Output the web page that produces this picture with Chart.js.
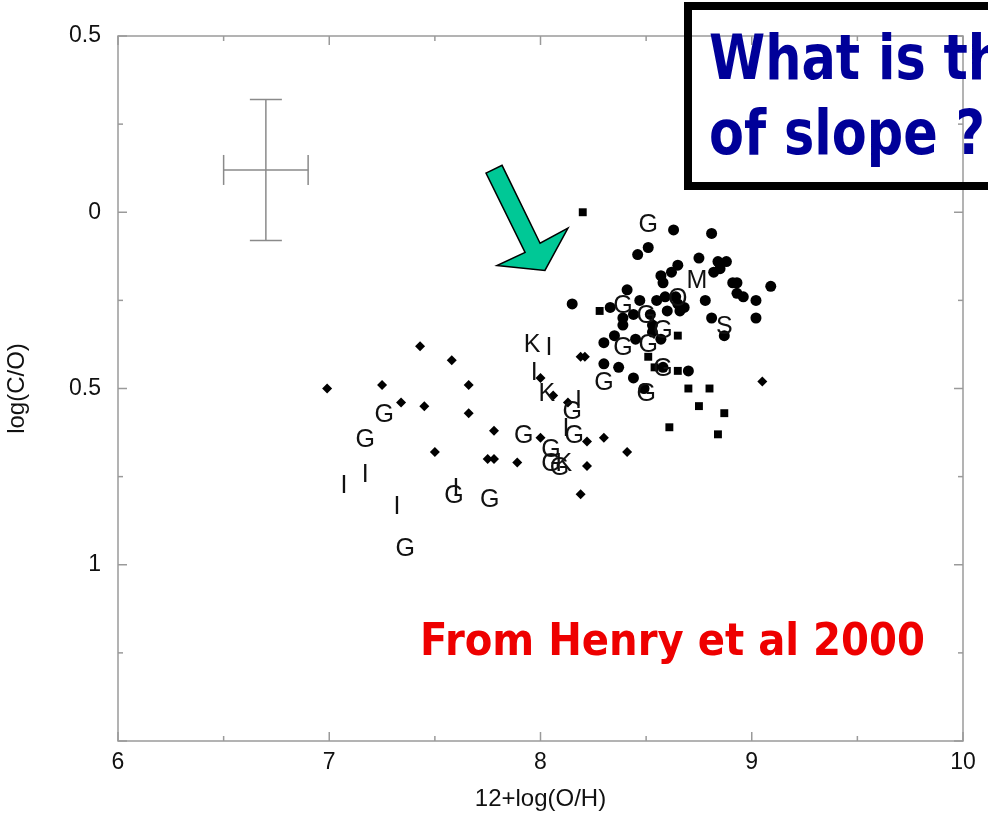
<!DOCTYPE html>
<html><head><meta charset="utf-8">
<script src="https://cdn.jsdelivr.net/npm/chart.js@4"></script>
<style>html,body{margin:0;padding:0;background:#fff;overflow:hidden}#wrap{width:988px;height:822px;position:relative}</style>
</head><body><div id="wrap"><canvas id="c" width="988" height="822"></canvas></div>
<script>
// ---- data (x = 12+log(O/H), y = log(C/O)) ----
const diamondX = [6.99,7.43,7.58,7.25,7.66,7.34,7.45,7.66,7.50,7.75,7.78,7.78,7.89,8.00,8.06,8.13,8.19,8.21,8.00,8.22,8.30,8.22,8.19,8.41,9.05];
const diamondY = [-0.50,-0.38,-0.42,-0.49,-0.49,-0.54,-0.55,-0.57,-0.68,-0.70,-0.70,-0.62,-0.71,-0.47,-0.52,-0.54,-0.41,-0.41,-0.64,-0.65,-0.64,-0.72,-0.80,-0.68,-0.48];

const circleX = [8.63,8.81,8.51,8.46,8.75,8.84,8.88,8.65,8.62,8.57,8.58,8.82,8.85,8.91,8.93,9.09,8.93,8.96,9.02,8.78,8.81,9.02,8.87,8.41,8.15,8.47,8.33,8.55,8.59,8.65,8.68,8.66,8.60,8.44,8.39,8.39,8.53,8.57,8.45,8.35,8.30,8.53,8.30,8.37,8.44,8.70,8.49,8.58,8.52,8.64];
const circleY = [-0.05,-0.06,-0.10,-0.12,-0.13,-0.14,-0.14,-0.15,-0.17,-0.18,-0.20,-0.17,-0.16,-0.20,-0.20,-0.21,-0.23,-0.24,-0.25,-0.25,-0.30,-0.30,-0.35,-0.22,-0.26,-0.25,-0.27,-0.25,-0.24,-0.26,-0.27,-0.28,-0.28,-0.29,-0.30,-0.32,-0.32,-0.36,-0.36,-0.35,-0.37,-0.34,-0.43,-0.44,-0.47,-0.45,-0.50,-0.44,-0.29,-0.24];

const squareX = [8.20,8.28,8.65,8.51,8.54,8.65,8.70,8.80,8.75,8.87,8.61,8.84];
const squareY = [0.00,-0.28,-0.35,-0.41,-0.44,-0.45,-0.50,-0.50,-0.55,-0.57,-0.61,-0.63];

const letterText = ['G','G','I','I','I','G','G','I','G','K','I','I','K','G','I','I','G','G','G','G','G','K','G','M','O','G','G','G','G','G','G','G','G','S'];
const letterX = [7.26,7.17,7.07,7.17,7.32,7.36,7.59,7.60,7.76,7.96,8.04,7.97,8.03,8.15,8.18,8.12,8.16,7.92,8.05,8.05,8.09,8.11,8.51,8.74,8.65,8.39,8.50,8.58,8.39,8.51,8.58,8.30,8.50,8.87];
const letterY = [-0.57,-0.64,-0.77,-0.74,-0.83,-0.95,-0.80,-0.78,-0.81,-0.37,-0.38,-0.45,-0.51,-0.56,-0.53,-0.61,-0.63,-0.63,-0.67,-0.71,-0.72,-0.71,-0.03,-0.19,-0.24,-0.26,-0.29,-0.33,-0.38,-0.37,-0.44,-0.48,-0.51,-0.32];

// typical error bar
const errX = [6.7], errY = [0.12], errDX = [0.2], errDY = [0.2];

// tick labels
const xTickValues = [6,7,8,9,10];
const xTickLabels = ['6','7','8','9','10'];
const yTickValues = [0.5,0,-0.5,-1];
const yTickLabels = ['0.5','0','0.5','1'];

// annotation arrow outline (data units)
const arrowX = [7.742,7.818,7.998,8.130,8.021,7.794,7.927];
const arrowY = [0.111,0.133,-0.088,-0.045,-0.165,-0.151,-0.114];

const zip = (xs, ys) => xs.map((v,i)=>({x:v,y:ys[i]}));

const FONT = "'Liberation Sans', Arial, sans-serif";

const framePlugin = {
  id:'frame',
  beforeDatasetsDraw(chart){
    const {ctx, chartArea:a, scales:{x,y}} = chart;
    ctx.save();
    ctx.strokeStyle = '#9a9a9a'; ctx.lineWidth = 1.5;
    ctx.strokeRect(a.left, a.top, a.right-a.left, a.bottom-a.top);
    const line=(x1,y1,x2,y2)=>{ctx.beginPath();ctx.moveTo(x1,y1);ctx.lineTo(x2,y2);ctx.stroke();};
    for (let i=0;i<=Math.round((x.max-x.min)/0.5);i++){
      const v = x.min + i*0.5; const px = x.getPixelForValue(v);
      const L = (i%2===0)?9:5;
      line(px,a.bottom,px,a.bottom-L); line(px,a.top,px,a.top+L);
    }
    for (let i=0;i<=Math.round((y.max-y.min)/0.25);i++){
      const v = y.min + i*0.25; const py = y.getPixelForValue(v);
      const L = (i%2===0)?9:5;
      line(a.left,py,a.left+L,py); line(a.right,py,a.right-L,py);
    }
    // error bar
    ctx.strokeStyle = '#8a8a8a'; ctx.lineWidth = 1.5;
    for (let i=0;i<errX.length;i++){
      const cx = x.getPixelForValue(errX[i]), cy = y.getPixelForValue(errY[i]);
      const x1 = x.getPixelForValue(errX[i]-errDX[i]), x2 = x.getPixelForValue(errX[i]+errDX[i]);
      const y1 = y.getPixelForValue(errY[i]+errDY[i]), y2 = y.getPixelForValue(errY[i]-errDY[i]);
      const cap = 15;
      line(x1,cy,x2,cy); line(cx,y1,cx,y2);
      line(x1,cy-cap,x1,cy+cap); line(x2,cy-cap,x2,cy+cap);
      line(cx-16,y1,cx+16,y1); line(cx-16,y2,cx+16,y2);
    }
    ctx.restore();
  },
  afterDatasetsDraw(chart){
    const {ctx, scales:{x,y}} = chart;
    ctx.save();
    // letters
    const meta = chart.getDatasetMeta(3);
    ctx.fillStyle = '#111';
    ctx.font = '25px ' + FONT;
    ctx.textAlign = 'center'; ctx.textBaseline = 'alphabetic';
    meta.data.forEach((el,i)=>{ ctx.fillText(letterText[i], el.x, el.y + 0.716*25/2); });
    // arrow
    ctx.beginPath();
    arrowX.forEach((v,i)=>{ const px=x.getPixelForValue(v), py=y.getPixelForValue(arrowY[i]); if(i===0)ctx.moveTo(px,py); else ctx.lineTo(px,py); });
    ctx.closePath();
    ctx.fillStyle = '#00C896'; ctx.fill();
    ctx.strokeStyle = '#000'; ctx.lineWidth = 1.5; ctx.lineJoin='miter'; ctx.stroke();
    ctx.restore();
  },
  afterDraw(chart){
    const ctx = chart.ctx;
    ctx.save();
    // question box
    ctx.strokeStyle = '#000'; ctx.lineWidth = 8;
    ctx.strokeRect(688, 6, 400, 180);
    ctx.fillStyle = '#000099';
    ctx.font = "bold 63px 'DejaVu Sans', sans-serif";
    ctx.textBaseline = 'alphabetic'; ctx.textAlign = 'left';
    const k = 276 / ctx.measureText('of slope ?').width;
    ctx.save(); ctx.translate(709, 79); ctx.scale(k,1); ctx.fillText('What is the', 0, 0); ctx.restore();
    ctx.save(); ctx.translate(709, 154); ctx.scale(k,1); ctx.fillText('of slope ?', 0, 0); ctx.restore();
    // source note
    ctx.fillStyle = '#EE0000';
    ctx.font = "bold 45px 'DejaVu Sans', sans-serif";
    const t = 'From Henry et al 2000';
    const k2 = 505 / ctx.measureText(t).width;
    ctx.save(); ctx.translate(420, 655); ctx.scale(k2,1); ctx.fillText(t, 0, 0); ctx.restore();
    ctx.restore();
  }
};

new Chart(document.getElementById('c'), {
  type:'scatter',
  data:{ datasets:[
    {label:'diamonds', data:zip(diamondX,diamondY), pointStyle:'rectRot', radius:5, backgroundColor:'#000', borderColor:'#000', borderWidth:0},
    {label:'circles', data:zip(circleX,circleY), pointStyle:'circle', radius:5.5, backgroundColor:'#000', borderColor:'#000', borderWidth:0},
    {label:'squares', data:zip(squareX,squareY), pointStyle:'rect', radius:5.6, backgroundColor:'#000', borderColor:'#000', borderWidth:0},
    {label:'letters', data:zip(letterX,letterY), radius:0, pointStyle:'circle', backgroundColor:'rgba(0,0,0,0)', borderWidth:0}
  ]},
  options:{
    responsive:false, animation:false, devicePixelRatio:1,
    layout:{padding:{top:36,right:25,left:0,bottom:0}},
    plugins:{legend:{display:false}, tooltip:{enabled:false}},
    scales:{
      x:{ type:'linear', min:6, max:10,
        grid:{display:false, drawTicks:false}, border:{display:false},
        ticks:{stepSize:1, padding:8, color:'#111', font:{family:FONT, size:23},
          callback:(v)=>{const i=xTickValues.findIndex(t=>Math.abs(t-v)<1e-6); return i<0?'':xTickLabels[i];}},
        title:{display:true, text:'12+log(O/H)', color:'#111', font:{family:FONT, size:24}, padding:{top:0,bottom:8}},
        afterFit:(s)=>{s.height=81;}
      },
      y:{ type:'linear', min:-1.5, max:0.5,
        grid:{display:false, drawTicks:false}, border:{display:false},
        ticks:{stepSize:0.5, padding:17, color:'#111', font:{family:FONT, size:23},
          callback:(v)=>{const i=yTickValues.findIndex(t=>Math.abs(t-v)<1e-6); return i<0?'':yTickLabels[i];}},
        title:{display:true, text:'log(C/O)', color:'#111', font:{family:FONT, size:24}, padding:{top:3,bottom:0}},
        afterFit:(s)=>{s.width=118;}
      }
    }
  },
  plugins:[framePlugin]
});
</script></body></html>
